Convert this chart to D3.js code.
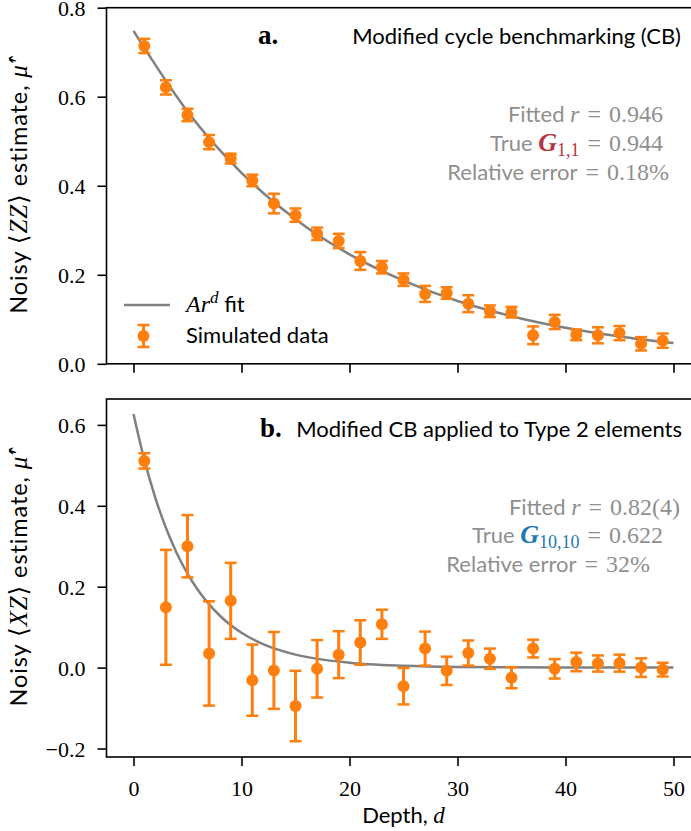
<!DOCTYPE html>
<html>
<head>
<meta charset="utf-8">
<script src="https://cdn.jsdelivr.net/npm/d3@7"></script>
<style>
  body { margin: 0; background: #fff; }
  text { font-family: Lato, "Open Sans", sans-serif; }
</style>
</head>
<body>
<svg id="chart" width="691" height="831"></svg>
<script>
// depths used by both experiments
const depths = [1, 3, 5, 7, 9, 11, 13, 15, 17, 19, 21, 23, 25, 27, 29, 31, 33, 35, 37, 39, 41, 43, 45, 47, 49];

// panel a: <ZZ>
const zzMean = [0.714, 0.621, 0.559, 0.498, 0.461, 0.412, 0.360, 0.334, 0.292, 0.276, 0.231, 0.217, 0.189,
  0.157, 0.159, 0.135, 0.118, 0.116, 0.064, 0.094, 0.065, 0.064, 0.069, 0.045, 0.052];
const zzErr = [0.016, 0.016, 0.014, 0.016, 0.011, 0.013, 0.022, 0.015, 0.014, 0.016, 0.020, 0.014, 0.014,
  0.018, 0.013, 0.019, 0.013, 0.012, 0.020, 0.016, 0.012, 0.018, 0.016, 0.015, 0.016];
const zzFitDepth = [0, 5, 10, 15, 20, 25, 30, 35, 40, 45, 50];
const zzFit = [0.748, 0.567, 0.429, 0.325, 0.246, 0.187, 0.141, 0.107, 0.081, 0.0615, 0.0466];

// panel b: <XZ>
const xzMean = [0.511, 0.149, 0.300, 0.035, 0.165, -0.031, -0.007, -0.095, -0.003, 0.032, 0.062, 0.107, -0.046,
  0.047, -0.008, 0.036, 0.022, -0.025, 0.047, -0.003, 0.014, 0.010, 0.011, 0.000, -0.005];
const xzErr = [0.019, 0.142, 0.077, 0.129, 0.094, 0.088, 0.095, 0.087, 0.071, 0.058, 0.055, 0.036, 0.045,
  0.042, 0.035, 0.031, 0.025, 0.026, 0.022, 0.024, 0.023, 0.020, 0.021, 0.023, 0.017];
const xzFitDepth = [0, 1, 2, 3, 4, 5, 6, 8, 10, 12, 15, 20, 25, 30, 40, 50];
const xzFit = [0.627, 0.514, 0.4216, 0.3457, 0.2835, 0.2325, 0.1906, 0.1282, 0.0862, 0.058, 0.032, 0.0119, 0.0044, 0.0016, 0.0002, 0.0];

const xTicks = [0, 10, 20, 30, 40, 50];
const zzTicks = [0.0, 0.2, 0.4, 0.6, 0.8];
const xzTicks = [-0.2, 0.0, 0.2, 0.4, 0.6];

const ORANGE = '#ff7f0e';
const GREY = '#808080';
const NOTE = '#8f8f8f';
const SERIF = '"Liberation Serif", "DejaVu Serif", serif';
const SANS_SIZE = '22px';
const MATH_SIZE = '24px';

const svg = d3.select('#chart');

const xScale = d3.scaleLinear().domain([-2.5, 52.5]).range([106.5, 700.5]);

function drawPanel(opts) {
  const { top, bottom, yDomain, yTicks, mean, err, fitX, fitY, showXLabels, yLabel } = opts;
  const y = d3.scaleLinear().domain(yDomain).range([bottom, top]);
  const g = svg.append('g');

  // fit curve
  const lineGen = d3.line()
    .x((d, i) => xScale(fitX[i]))
    .y(d => y(d))
    .curve(d3.curveMonotoneX);
  g.append('path')
    .datum(fitY)
    .attr('d', lineGen)
    .attr('fill', 'none')
    .attr('stroke', GREY)
    .attr('stroke-width', 2.5);

  // error bars
  const pts = depths.map((d, i) => ({ d, m: mean[i], e: err[i] }));
  const bars = g.selectAll('.bar').data(pts).join('g').attr('class', 'bar');
  bars.append('line')
    .attr('x1', p => xScale(p.d)).attr('x2', p => xScale(p.d))
    .attr('y1', p => y(p.m - p.e)).attr('y2', p => y(p.m + p.e))
    .attr('stroke', ORANGE).attr('stroke-width', 3);
  [-1, 1].forEach(s => {
    bars.append('line')
      .attr('x1', p => xScale(p.d) - 6).attr('x2', p => xScale(p.d) + 6)
      .attr('y1', p => y(p.m + s * p.e)).attr('y2', p => y(p.m + s * p.e))
      .attr('stroke', ORANGE).attr('stroke-width', 2.5);
  });
  bars.append('circle')
    .attr('cx', p => xScale(p.d)).attr('cy', p => y(p.m))
    .attr('r', 6).attr('fill', ORANGE);

  // frame
  g.append('rect')
    .attr('x', xScale.range()[0]).attr('y', top)
    .attr('width', xScale.range()[1] - xScale.range()[0])
    .attr('height', bottom - top)
    .attr('fill', 'none').attr('stroke', '#000').attr('stroke-width', 1.6);

  // axes
  const yAxis = g.append('g')
    .attr('transform', `translate(${xScale.range()[0]},0)`)
    .call(d3.axisLeft(y).tickValues(yTicks).tickSize(9).tickPadding(12).tickFormat(d3.format('.1f')));
  const xAxis = g.append('g')
    .attr('transform', `translate(0,${bottom})`)
    .call(d3.axisBottom(xScale).tickValues(xTicks).tickSize(9).tickPadding(14)
      .tickFormat(showXLabels ? d3.format('d') : ''));
  [yAxis, xAxis].forEach(ax => {
    ax.select('.domain').remove();
    ax.selectAll('.tick line').attr('stroke', '#000').attr('stroke-width', 1.6);
    ax.selectAll('.tick text').attr('fill', '#000')
      .style('font-family', SERIF).style('font-size', '22px');
  });
  yAxis.selectAll('.tick text').attr('dy', '0.36em');

  // y label
  const yl = g.append('text')
    .attr('transform', `translate(27,${(top + bottom) / 2}) rotate(-90)`)
    .attr('text-anchor', 'middle')
    .style('font-size', '23.5px')
    .style('letter-spacing', '0.9px')
    .attr('fill', '#000');
  yl.append('tspan').text('Noisy ');
  yl.append('tspan').style('font-family', SERIF).style('font-size', '25px').text('\u27E8');
  yl.append('tspan').style('font-family', SERIF).style('font-style', 'italic').style('font-size', '25px').text(yLabel);
  yl.append('tspan').style('font-family', SERIF).style('font-size', '25px').text('\u27E9');
  yl.append('tspan').text(' estimate, ');
  yl.append('tspan').style('font-family', SERIF).style('font-style', 'italic').style('font-size', '25px').text('\u03BC\u0302\u2032');

  return { g, y };
}

const a = drawPanel({
  top: 7.7, bottom: 363.8, yDomain: [0, 0.8], yTicks: zzTicks,
  mean: zzMean, err: zzErr, fitX: zzFitDepth, fitY: zzFit, showXLabels: false, yLabel: 'ZZ'
});
const b = drawPanel({
  top: 399, bottom: 757, yDomain: [-0.221, 0.664], yTicks: xzTicks,
  mean: xzMean, err: xzErr, fitX: xzFitDepth, fitY: xzFit, showXLabels: true, yLabel: 'XZ'
});

// x label
const xl = svg.append('text')
  .attr('x', 403.5).attr('y', 823)
  .attr('text-anchor', 'middle')
  .style('font-size', SANS_SIZE);
xl.append('tspan').text('Depth, ');
xl.append('tspan').style('font-family', SERIF).style('font-style', 'italic').style('font-size', '23px').text('d');

// panel titles
function title(g, letter, lx, label, rx, by) {
  g.append('text').attr('x', lx).attr('y', by)
    .style('font-family', SERIF).style('font-weight', 'bold').style('font-size', '27px')
    .text(letter);
  g.append('text').attr('x', rx).attr('y', by)
    .attr('text-anchor', 'end').style('font-size', SANS_SIZE)
    .text(label);
}
title(a.g, 'a.', 258, 'Modified cycle benchmarking (CB)', 681, 44);
title(b.g, 'b.', 260, 'Modified CB applied to Type 2 elements', 682, 437);

// annotation lines
function note(g, rx, by, parts) {
  const t = g.append('text').attr('x', rx).attr('y', by)
    .attr('text-anchor', 'end').attr('fill', NOTE).style('font-size', SANS_SIZE);
  parts.forEach(p => {
    const s = t.append('tspan').text(p.t);
    if (p.serif) s.style('font-family', SERIF).style('font-size', MATH_SIZE);
    if (p.it) s.style('font-style', 'italic');
    if (p.bold) s.style('font-weight', 'bold');
    if (p.fill) s.attr('fill', p.fill);
    if (p.size) s.style('font-size', p.size);
    if (p.dy) s.attr('dy', p.dy);
  });
}
const RED = '#b5333f';
const BLUE = '#1f77b4';
const EQ = '\u2004=\u2004';
note(a.g, 663, 122, [{ t: 'Fitted ' }, { t: 'r', serif: true, it: true }, { t: EQ + '0.946', serif: true }]);
note(a.g, 663, 151, [{ t: 'True ' }, { t: 'G', serif: true, it: true, bold: true, fill: RED, size: '26px' },
  { t: '1,1', serif: true, fill: RED, size: '18px', dy: 5 }, { t: EQ + '0.944', serif: true, dy: -5 }]);
note(a.g, 669, 180, [{ t: 'Relative error' }, { t: EQ + '0.18%', serif: true }]);

note(b.g, 680, 515, [{ t: 'Fitted ' }, { t: 'r', serif: true, it: true }, { t: EQ + '0.82(4)', serif: true }]);
note(b.g, 663, 543, [{ t: 'True ' }, { t: 'G', serif: true, it: true, bold: true, fill: BLUE, size: '26px' },
  { t: '10,10', serif: true, fill: BLUE, size: '18px', dy: 5 }, { t: EQ + '0.622', serif: true, dy: -5 }]);
note(b.g, 650, 572, [{ t: 'Relative error' }, { t: EQ + '32%', serif: true }]);

// legend
const leg = a.g.append('g');
leg.append('line').attr('x1', 124).attr('x2', 170).attr('y1', 305).attr('y2', 305)
  .attr('stroke', GREY).attr('stroke-width', 2.5);
const lt = leg.append('text').attr('x', 186).attr('y', 312).style('font-size', SANS_SIZE);
lt.append('tspan').style('font-family', SERIF).style('font-style', 'italic').style('font-size', MATH_SIZE).text('Ar');
lt.append('tspan').style('font-family', SERIF).style('font-style', 'italic').style('font-size', '17px').attr('dy', -9).text('d');
lt.append('tspan').attr('dy', 9).text(' fit');
leg.append('line').attr('x1', 143.5).attr('x2', 143.5).attr('y1', 325).attr('y2', 347)
  .attr('stroke', ORANGE).attr('stroke-width', 3);
[325, 347].forEach(v => leg.append('line').attr('x1', 137.5).attr('x2', 149.5).attr('y1', v).attr('y2', v)
  .attr('stroke', ORANGE).attr('stroke-width', 2.5));
leg.append('circle').attr('cx', 143.5).attr('cy', 336).attr('r', 6).attr('fill', ORANGE);
leg.append('text').attr('x', 186).attr('y', 343).style('font-size', SANS_SIZE).text('Simulated data');
</script>
</body>
</html>
